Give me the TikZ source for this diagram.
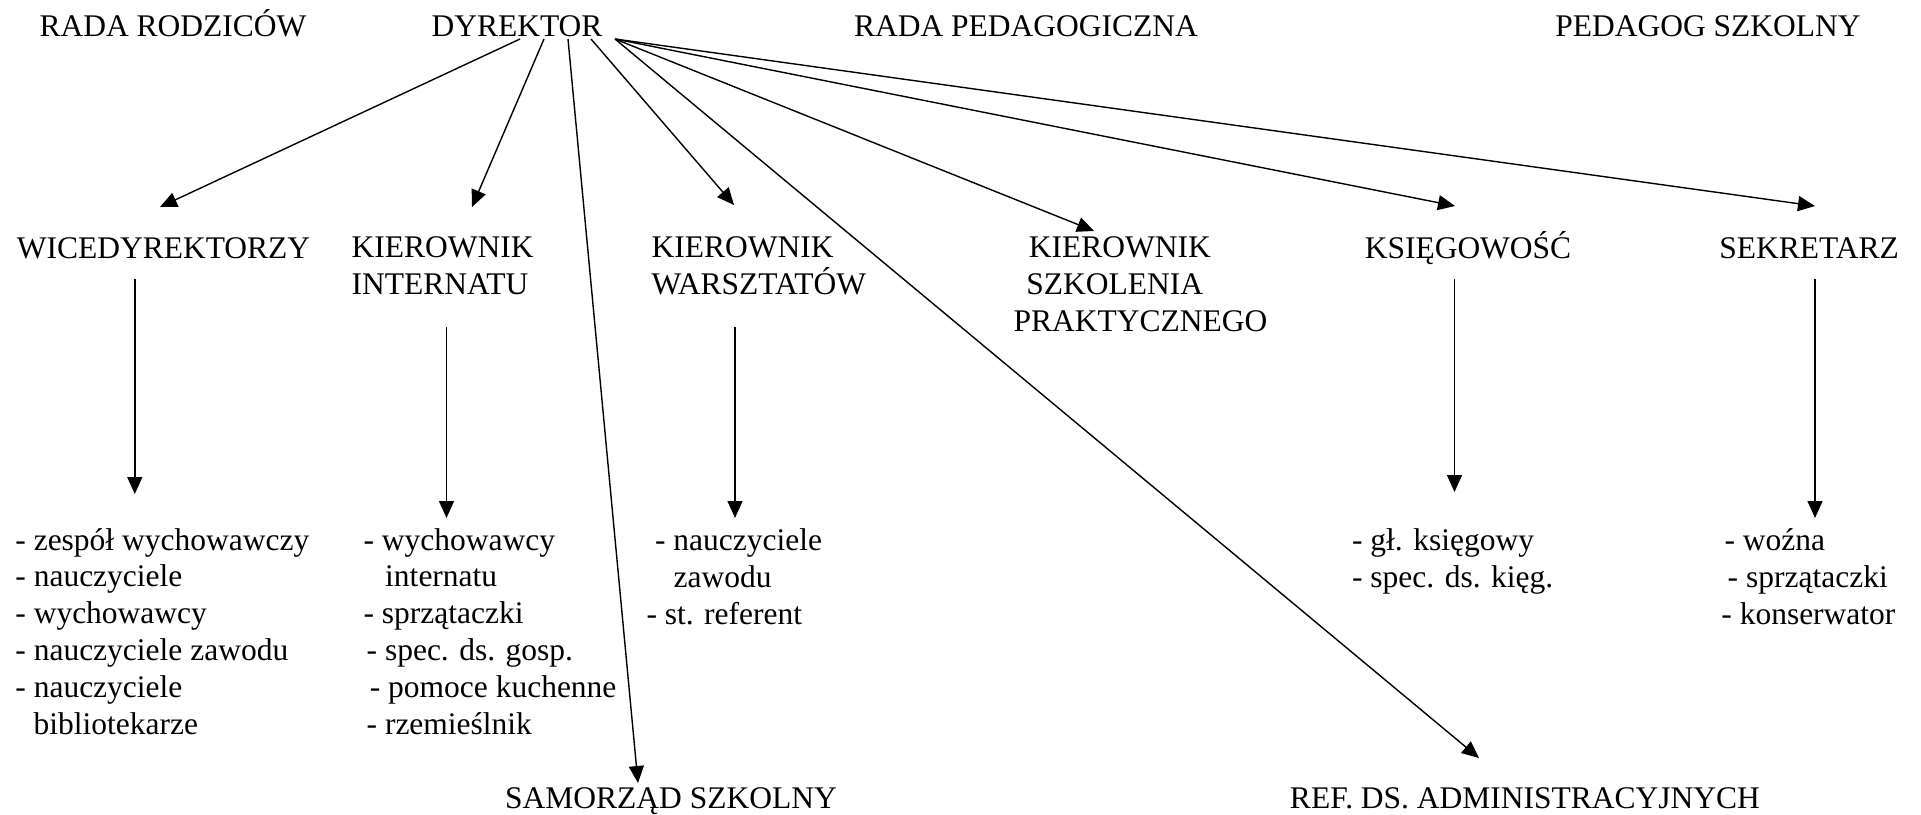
\documentclass[tikz,border=0pt]{standalone}
\usepackage{fontspec}
\setmainfont{Liberation Serif}
\usetikzlibrary{arrows.meta,calc}

\begin{document}
\begin{tikzpicture}[x=0.5pt, y=-0.5pt, line width=0.7pt,
	>={Triangle[length=8.5pt,width=7.5pt]},
	font=\fontsize{15.75}{18.4}\selectfont,
	toplabel/.style={anchor=base, inner sep=0pt},
	unitlabel/.style={anchor=base west, align=left, inner sep=0pt},
	stafflist/.style={anchor=base west, align=left, inner sep=0pt}]
	
	\useasboundingbox (0, 0) rectangle (1921, 814);
	
	\node[toplabel] (rodz)  at (173, 36)   {RADA RODZICÓW};
	\node[toplabel] (dyr)   at (517, 36)   {DYREKTOR};
	\node[toplabel] (rped)  at (1026, 36)  {RADA PEDAGOGICZNA};
	\node[toplabel] (pedag) at (1708, 36)  {PEDAGOG SZKOLNY};
	
	% multi-line nodes sit on the baseline of their last line
	\node[toplabel]  (wice)  at (163.5, 258) {WICEDYREKTORZY};
	\node[unitlabel] (int)   at (351, 294)   {KIEROWNIK\\INTERNATU};
	\node[unitlabel] (warsz) at (651, 294)   {KIEROWNIK\\WARSZTATÓW};
	\node[unitlabel] (szkol) at (1013, 331)  {\hspace*{0.48em}KIEROWNIK\\\hspace*{0.4em}SZKOLENIA\\PRAKTYCZNEGO};
	\node[toplabel]  (ksieg) at (1468, 258)  {KSIĘGOWOŚĆ};
	\node[toplabel]  (sekr)  at (1809, 258)  {SEKRETARZ};
	
	\node[stafflist] (wice-l)  at (14.7, 734)   {- zespół wychowawczy\\- nauczyciele\\- wychowawcy\\- nauczyciele zawodu\\- nauczyciele\\\hspace*{0.58em}bibliotekarze};
	\node[stafflist] (int-l)   at (362.8, 734)  {- wychowawcy\\\hspace*{0.69em}internatu\\- sprzątaczki\\\hspace*{0.1em}- spec. ds. gosp.\\\hspace*{0.2em}- pomoce kuchenne\\\hspace*{0.1em}- rzemieślnik};
	\node[stafflist] (warsz-l) at (645.8, 624)  {\hspace*{0.27em}- nauczyciele\\\hspace*{0.86em}zawodu\\- st. referent};
	\node[stafflist] (ksieg-l) at (1351.4, 587) {- gł. księgowy\\- spec. ds. kięg.};
	\node[stafflist] (sekr-l)  at (1720.7, 624) {\hspace*{0.1em}- woźna\\\hspace*{0.2em}- sprzątaczki\\- konserwator};
	
	\node[toplabel] (samorz) at (671, 808)  {SAMORZĄD SZKOLNY};
	\node[toplabel] (ref)    at (1525, 808) {REF. DS. ADMINISTRACYJNYCH};
	
	% ends of the arrows from the director
	\coordinate (wice-in)   at (160, 207);
	\coordinate (int-in)    at (472, 207);
	\coordinate (samorz-in) at (638, 783);
	\coordinate (warsz-in)  at (734, 205);
	\coordinate (ref-in)    at (1479, 758);
	\coordinate (szkol-in)  at (1094, 231);
	\coordinate (ksieg-in)  at (1455, 206);
	\coordinate (sekr-in)   at (1815, 206);
	
	\path[->] ($(dyr.base)+(3,3)$)  edge (wice-in);
	\path[->] ($(dyr.base)+(27,3)$) edge (int-in);
	\path[->] ($(dyr.base)+(51,3)$) edge (samorz-in);
	\path[->] ($(dyr.base)+(74,3)$) edge (warsz-in);
	\path[->] ($(dyr.base)+(98,3)$) edge (ref-in);
	\path[->] ($(dyr.base)+(98,3)$) edge (szkol-in);
	\path[->] ($(dyr.base)+(98,3)$) edge (ksieg-in);
	\path[->] ($(dyr.base)+(98,3)$) edge (sekr-in);
	
	% arrows down to the staff lists
	\coordinate (wice-out)  at (134.8, 279);
	\coordinate (wice-to)   at (134.8, 494);
	\coordinate (int-out)   at (446.5, 327);
	\coordinate (int-to)    at (446.5, 518);
	\coordinate (warsz-out) at (735, 327);
	\coordinate (warsz-to)  at (735, 518);
	\coordinate (ksieg-out) at (1454.5, 279);
	\coordinate (ksieg-to)  at (1454.5, 492);
	\coordinate (sekr-out)  at (1815, 279);
	\coordinate (sekr-to)   at (1815, 518);
	
	\path[->] (wice-out)  edge (wice-to);
	\path[->] (int-out)   edge (int-to);
	\path[->] (warsz-out) edge (warsz-to);
	\path[->] (ksieg-out) edge (ksieg-to);
	\path[->] (sekr-out)  edge (sekr-to);
	
\end{tikzpicture}
\end{document}
